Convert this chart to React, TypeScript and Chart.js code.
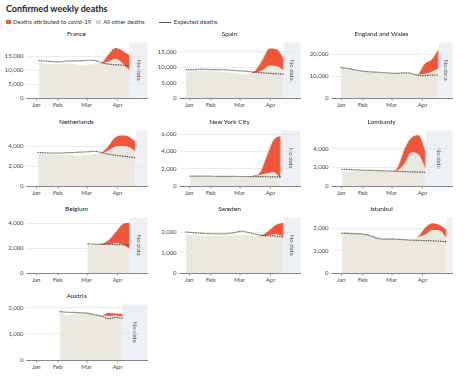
import React, { useEffect, useRef } from "react";
import { Chart, registerables } from "chart.js";
Chart.register(...registerables);

// ---- axis data ----
const monthLabels = ["Jan", "Feb", "Mar", "Apr"];
const monthTickDays = [9.5, 31, 60, 91];
const axisStartDay = 0;
const axisEndDay = 121;

// ---- per-country data (x = day of year of each weekly point) ----
const franceFirstDay = 12;
const franceOther = [12500, 12300, 12200, 12100, 12300, 12200, 11600, 11900, 12100, 12300, 13000, 14000, 12300, 9800];
const franceCovid = [0, 0, 0, 0, 0, 0, 0, 0, 0, 200, 2600, 3900, 4600, 5500];
const franceExpected = [13400, 13200, 13000, 12900, 13200, 13300, 13300, 13500, 13400, 12600, 12100, 11900, 11700, 11400];

const spainFirstDay = 6;
const spainOther = [8600, 8700, 8800, 8800, 8700, 8500, 8300, 8100, 7900, 7900, 8200, 9000, 10500, 10300, 9000];
const spainCovid = [0, 0, 0, 0, 0, 0, 0, 0, 0, 0, 800, 3500, 5600, 5500, 4000];
const spainExpected = [9200, 9200, 9300, 9300, 9200, 9200, 9100, 8900, 8800, 8600, 8400, 8200, 8000, 7900, 7700];

const englandFirstDay = 9;
const englandOther = [14200, 13700, 13100, 12500, 12100, 11800, 11500, 11300, 11300, 11600, 11200, 10800, 11000, 12000, 13600];
const englandCovid = [0, 0, 0, 0, 0, 0, 0, 0, 0, 0, 0, 200, 4700, 5600, 8800];
const englandExpected = [14100, 13600, 13000, 12400, 12100, 11900, 11700, 11500, 11300, 11600, 11400, 10500, 10300, 10500, 10600];

const netherlandsFirstDay = 11;
const netherlandsOther = [3250, 3200, 3150, 3130, 3150, 3100, 2980, 3150, 3180, 3220, 3500, 3900, 4000, 3900, 3450];
const netherlandsCovid = [0, 0, 0, 0, 0, 0, 0, 0, 0, 50, 400, 900, 1050, 1050, 1000];
const netherlandsExpected = [3360, 3330, 3300, 3290, 3330, 3350, 3390, 3430, 3470, 3380, 3200, 3100, 3000, 2930, 2830];

const nycFirstDay = 10;
const nycOther = [1150, 1120, 1130, 1140, 1130, 1120, 1100, 1100, 1090, 1100, 1250, 1450, 1600, 850];
const nycCovid = [0, 0, 0, 0, 0, 0, 0, 0, 0, 80, 250, 1950, 3700, 4950];
const nycExpected = [1150, 1140, 1130, 1130, 1120, 1120, 1110, 1100, 1100, 1090, 1080, 1070, 1060, 1050];

const lombardyFirstDay = 10;
const lombardyOther = [1550, 1580, 1600, 1630, 1620, 1600, 1580, 1570, 1700, 2400, 3600, 3350, 1800];
const lombardyCovid = [0, 0, 0, 0, 0, 0, 0, 0, 300, 1600, 1600, 2100, 1900];
const lombardyExpected = [1800, 1770, 1730, 1700, 1680, 1660, 1630, 1600, 1570, 1540, 1520, 1500, 1470];

const belgiumFirstDay = 61;
const belgiumOther = [2250, 2250, 2270, 2300, 2400, 2300, 1950];
const belgiumCovid = [0, 0, 50, 360, 900, 1650, 2130];
const belgiumExpected = [2350, 2340, 2330, 2320, 2300, 2280, 2250];

const swedenFirstDay = 6;
const swedenOther = [1900, 1870, 1850, 1840, 1840, 1840, 1850, 1870, 1880, 1860, 1830, 1800, 1880, 1900, 1800];
const swedenCovid = [0, 0, 0, 0, 0, 0, 0, 0, 0, 0, 0, 80, 250, 500, 690];
const swedenExpected = [2030, 2000, 1970, 1950, 1940, 1930, 1950, 2000, 2070, 2000, 1920, 1860, 1840, 1820, 1770];

const istanbulFirstDay = 10;
const istanbulOther = [1830, 1820, 1800, 1780, 1700, 1620, 1560, 1540, 1520, 1500, 1480, 1600, 1720, 1930, 1900, 1560];
const istanbulCovid = [0, 0, 0, 0, 0, 0, 0, 0, 0, 0, 0, 50, 330, 300, 250, 380];
const istanbulExpected = [1780, 1770, 1760, 1740, 1680, 1560, 1520, 1520, 1510, 1490, 1470, 1460, 1450, 1440, 1420, 1400];

const austriaFirstDay = 33;
const austriaOther = [1920, 1720, 1760, 1790, 1810, 1760, 1710, 1680, 1700, 1650];
const austriaCovid = [0, 0, 0, 0, 0, 0, 0, 120, 80, 120];
const austriaExpected = [1850, 1830, 1820, 1810, 1790, 1730, 1680, 1580, 1630, 1590];

type Panel = {
  name: string;
  firstDay: number;
  other: number[];
  covid: number[];
  expected: number[];
  yMax: number;
  yStep: number;
};

const panels: Panel[] = [
  { name: "France", firstDay: franceFirstDay, other: franceOther, covid: franceCovid, expected: franceExpected, yMax: 19800, yStep: 5000 },
  { name: "Spain", firstDay: spainFirstDay, other: spainOther, covid: spainCovid, expected: spainExpected, yMax: 18000, yStep: 5000 },
  { name: "England and Wales", firstDay: englandFirstDay, other: englandOther, covid: englandCovid, expected: englandExpected, yMax: 25500, yStep: 10000 },
  { name: "Netherlands", firstDay: netherlandsFirstDay, other: netherlandsOther, covid: netherlandsCovid, expected: netherlandsExpected, yMax: 5550, yStep: 2000 },
  { name: "New York City", firstDay: nycFirstDay, other: nycOther, covid: nycCovid, expected: nycExpected, yMax: 6400, yStep: 2000 },
  { name: "Lombardy", firstDay: lombardyFirstDay, other: lombardyOther, covid: lombardyCovid, expected: lombardyExpected, yMax: 5950, yStep: 2000 },
  { name: "Belgium", firstDay: belgiumFirstDay, other: belgiumOther, covid: belgiumCovid, expected: belgiumExpected, yMax: 4480, yStep: 2000 },
  { name: "Sweden", firstDay: swedenFirstDay, other: swedenOther, covid: swedenCovid, expected: swedenExpected, yMax: 2740, yStep: 1000 },
  { name: "Istanbul", firstDay: istanbulFirstDay, other: istanbulOther, covid: istanbulCovid, expected: istanbulExpected, yMax: 2480, yStep: 1000 },
  { name: "Austria", firstDay: austriaFirstDay, other: austriaOther, covid: austriaCovid, expected: austriaExpected, yMax: 2120, yStep: 1000 },
];

const RED = "#f2563a";
const BEIGE = "#ebe8e0";
const BAND = "#edf1f5";
const FONT = "Lato, 'Open Sans', sans-serif";

const colLefts = [0, 153, 305];
const rowTops = [27, 115, 202, 289];

const noDataPlugin = {
  id: "noDataBand",
  beforeDraw(chart: any, _args: any, opts: any) {
    const { ctx, chartArea, scales } = chart;
    const x0 = scales.x.getPixelForValue(opts.fromDay);
    const x1 = chartArea.right;
    if (x1 <= x0) return;
    ctx.save();
    ctx.fillStyle = BAND;
    ctx.fillRect(x0, chartArea.top, x1 - x0, chartArea.bottom - chartArea.top);
    if (x1 - x0 > 12) {
      ctx.translate((x0 + x1) / 2, (chartArea.top + chartArea.bottom) / 2);
      ctx.rotate(Math.PI / 2);
      ctx.fillStyle = "#555";
      ctx.font = "6px " + FONT;
      ctx.textAlign = "center";
      ctx.textBaseline = "middle";
      ctx.fillText("No data", 0, 0);
    }
    ctx.restore();
  },
};

function MiniChart({ panel }: { panel: Panel }) {
  const ref = useRef<HTMLCanvasElement>(null);
  useEffect(() => {
    if (!ref.current) return;
    const days = panel.other.map((_, i) => panel.firstDay + 7 * i);
    const lastDay = days[days.length - 1];
    const yTicks: number[] = [];
    for (let v = 0; v < panel.yMax; v += panel.yStep) yTicks.push(v);
    const chart = new Chart(ref.current, {
      type: "line",
      data: {
        datasets: [
          {
            label: "Expected deaths",
            data: days.map((d, i) => ({ x: d, y: panel.expected[i] })),
            borderColor: "#333",
            borderWidth: 1.2,
            borderDash: [1.2, 1.2],
            pointRadius: 0,
            fill: false,
            stack: "expected",
            cubicInterpolationMode: "monotone",
          },
          {
            label: "All other deaths",
            data: days.map((d, i) => ({ x: d, y: panel.other[i] })),
            backgroundColor: BEIGE,
            borderColor: BEIGE,
            borderWidth: 0,
            pointRadius: 0,
            fill: "origin",
            stack: "deaths",
            cubicInterpolationMode: "monotone",
          },
          {
            label: "Deaths attributed to covid-19",
            data: days.map((d, i) => ({ x: d, y: panel.covid[i] })),
            backgroundColor: RED,
            borderColor: RED,
            borderWidth: 0,
            pointRadius: 0,
            fill: "-1",
            stack: "deaths",
            cubicInterpolationMode: "monotone",
          },
        ],
      } as any,
      options: {
        animation: false,
        responsive: false,
        maintainAspectRatio: false,
        layout: { padding: { top: 4, left: 0, right: 6.5, bottom: 0 } },
        plugins: {
          legend: { display: false },
          tooltip: { enabled: false },
          title: { display: false },
          noDataBand: { fromDay: lastDay },
        } as any,
        scales: {
          x: {
            type: "linear",
            min: axisStartDay,
            max: axisEndDay,
            afterBuildTicks: (scale: any) => {
              scale.ticks = monthTickDays.map((v) => ({ value: v }));
            },
            afterFit: (scale: any) => {
              scale.height = 16;
            },
            ticks: {
              autoSkip: false,
              maxRotation: 0,
              padding: 1,
              color: "#444",
              font: { size: 6, family: FONT },
              callback: (v: any) => {
                const idx = monthTickDays.indexOf(Number(v));
                return idx >= 0 ? monthLabels[idx] : "";
              },
            },
            grid: { display: true, drawOnChartArea: false, drawTicks: true, tickLength: 2.5, color: "#888" },
            border: { display: true, color: "#888", width: 1 },
          },
          y: {
            stacked: true,
            min: 0,
            max: panel.yMax,
            afterBuildTicks: (scale: any) => {
              scale.ticks = yTicks.map((v) => ({ value: v }));
            },
            afterFit: (scale: any) => {
              scale.width = 26.6;
            },
            ticks: {
              padding: 3,
              color: "#444",
              font: { size: 6, family: FONT },
              callback: (v: any) => Number(v).toLocaleString("en-US"),
            },
            grid: { color: "#e6e6e6", drawTicks: false, lineWidth: 0.8 },
            border: { display: false },
          },
        },
      } as any,
      plugins: [noDataPlugin],
    });
    return () => chart.destroy();
  }, [panel]);
  return <canvas ref={ref} width={153.5} height={78} style={{ position: "absolute", left: 0, top: 9, width: 153.5, height: 78 }} />;
}

export default function App() {
  return (
    <div style={{ position: "absolute", left: 0, top: 0, width: 465, height: 381, fontFamily: FONT, color: "#222", background: "#fff", overflow: "hidden" }}>
      <div style={{ position: "absolute", left: 6, top: 3, fontSize: 9, fontWeight: 700, lineHeight: "12px", whiteSpace: "nowrap" }}>
        Confirmed weekly deaths
      </div>
      <div style={{ position: "absolute", left: 6, top: 17, fontSize: 6, lineHeight: "10px", display: "flex", alignItems: "center", whiteSpace: "nowrap", color: "#333" }}>
        <span style={{ display: "inline-block", width: 4.5, height: 4.5, background: RED, marginRight: 2.5 }} />
        <span>Deaths attributed to covid-19</span>
        <span style={{ display: "inline-block", width: 4.5, height: 4.5, background: "#d9d6cf", marginLeft: 5, marginRight: 2.5 }} />
        <span>All other deaths</span>
        <span style={{ display: "inline-block", width: 12, height: 0, borderTop: "0.8px solid #555", marginLeft: 14, marginRight: 3 }} />
        <span>Expected deaths</span>
      </div>
      {panels.map((p, i) => {
        const col = i % 3;
        const row = Math.floor(i / 3);
        return (
          <div key={p.name} style={{ position: "absolute", left: colLefts[col], top: rowTops[row], width: 153.5, height: 87 }}>
            <div style={{ position: "absolute", left: 0, top: 0, width: 153, textAlign: "center", fontSize: 6.5, lineHeight: "14px", color: "#222" }}>
              {p.name}
            </div>
            <MiniChart panel={p} />
          </div>
        );
      })}
    </div>
  );
}
